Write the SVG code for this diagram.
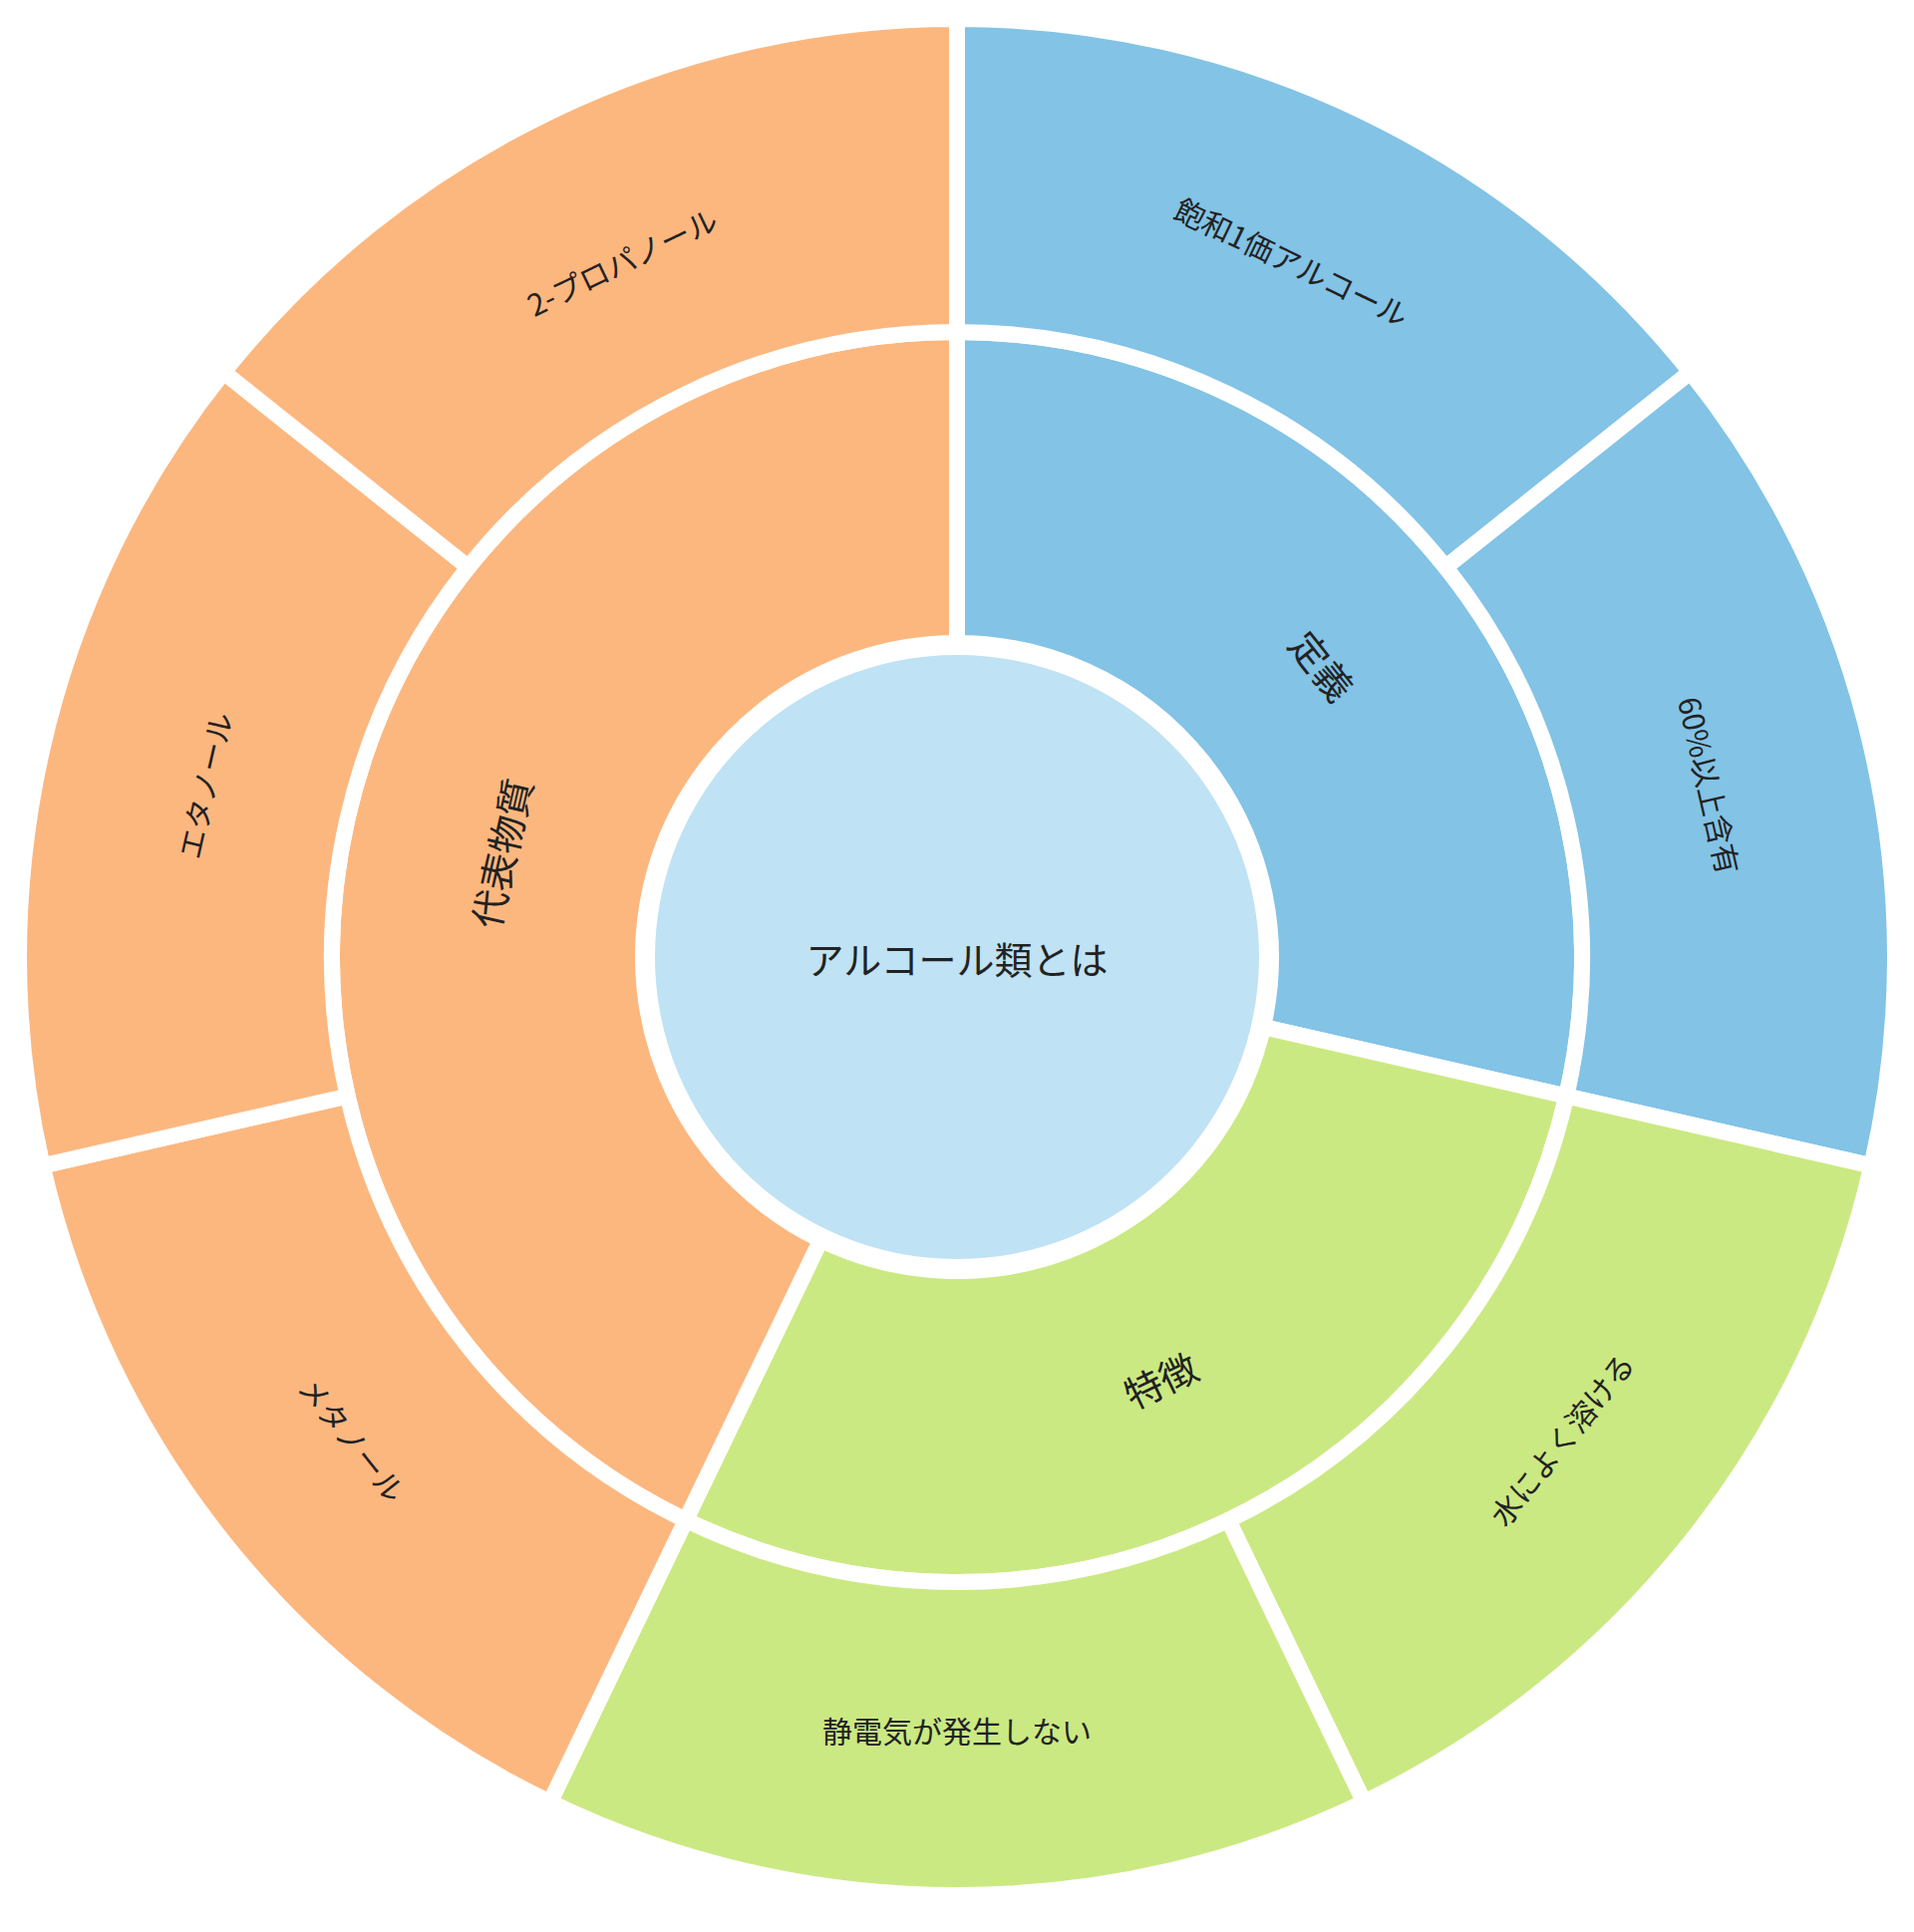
<svg xmlns="http://www.w3.org/2000/svg" width="1920" height="1938" viewBox="0 0 1920 1938">
<style>
.s{stroke:#fff;stroke-width:16;stroke-linejoin:round}
.b{fill:#82C3E6}.g{fill:#CBE982}.o{fill:#FCB77F}
text{font-family:"Noto Sans CJK JP","Noto Sans",sans-serif;fill:#222;text-anchor:middle;dominant-baseline:central}
.t1{font-size:30px}.t2{font-size:38px}.t0{font-size:38px}
</style>
<rect width="1920" height="1938" fill="#fff"/>
<g id="center"><circle cx="960" cy="960" r="303" fill="#BFE2F4"/><text class="t0" x="960" y="960">アルコール類とは</text></g>
<g id="teigi"><path class="s b" d="M960,333 A627,627 0 0 1 1571.3,1099.5 L1267.1,1030.1 A315,315 0 0 0 960,645 Z"/><text class="t2" transform="translate(1327.4,667) rotate(51.43)">定義</text></g>
<g id="tokucho"><path class="s g" d="M1571.3,1099.5 A627,627 0 0 1 687.9,1524.9 L823.3,1243.8 A315,315 0 0 0 1267.1,1030.1 Z"/><text class="t2" transform="translate(1163.9,1383.5) rotate(-25.71)">特徴</text></g>
<g id="daihyo"><path class="s o" d="M687.9,1524.9 A627,627 0 0 1 960,333 L960,645 A315,315 0 0 0 823.3,1243.8 Z"/><text class="t2" transform="translate(501.8,855.4) rotate(-77.14)">代表物質</text></g>
<g id="howa"><path class="s b" d="M960,19 A941,941 0 0 1 1695.7,373.3 L1450.2,569.1 A627,627 0 0 0 960,333 Z"/><text class="t1" transform="translate(1296.3,261.7) rotate(25.71)">飽和1価アルコール</text></g>
<g id="gan"><path class="s b" d="M1695.7,373.3 A941,941 0 0 1 1877.4,1169.4 L1571.3,1099.5 A627,627 0 0 0 1450.2,569.1 Z"/><text class="t1" transform="translate(1715.6,787.6) rotate(77.14)">60%以上含有</text></g>
<g id="mizu"><path class="s g" d="M1877.4,1169.4 A941,941 0 0 1 1368.3,1807.8 L1232.1,1524.9 A627,627 0 0 0 1571.3,1099.5 Z"/><text class="t1" transform="translate(1565.9,1443.2) rotate(-51.43)">水によく溶ける</text></g>
<g id="seiden"><path class="s g" d="M1368.3,1807.8 A941,941 0 0 1 551.7,1807.8 L687.9,1524.9 A627,627 0 0 0 1232.1,1524.9 Z"/><text class="t1" x="960" y="1735">静電気が発生しない</text></g>
<g id="methanol"><path class="s o" d="M551.7,1807.8 A941,941 0 0 1 42.6,1169.4 L348.7,1099.5 A627,627 0 0 0 687.9,1524.9 Z"/><text class="t1" transform="translate(354.1,1443.2) rotate(51.43)">メタノール</text></g>
<g id="ethanol"><path class="s o" d="M42.6,1169.4 A941,941 0 0 1 224.3,373.3 L469.8,569.1 A627,627 0 0 0 348.7,1099.5 Z"/><text class="t1" transform="translate(204.4,787.6) rotate(-77.14)">エタノール</text></g>
<g id="propanol"><path class="s o" d="M224.3,373.3 A941,941 0 0 1 960,19 L960,333 A627,627 0 0 0 469.8,569.1 Z"/><text class="t1" transform="translate(623.7,261.7) rotate(-25.71)">2-プロパノール</text></g>
<g id="connectors"/>
</svg>
